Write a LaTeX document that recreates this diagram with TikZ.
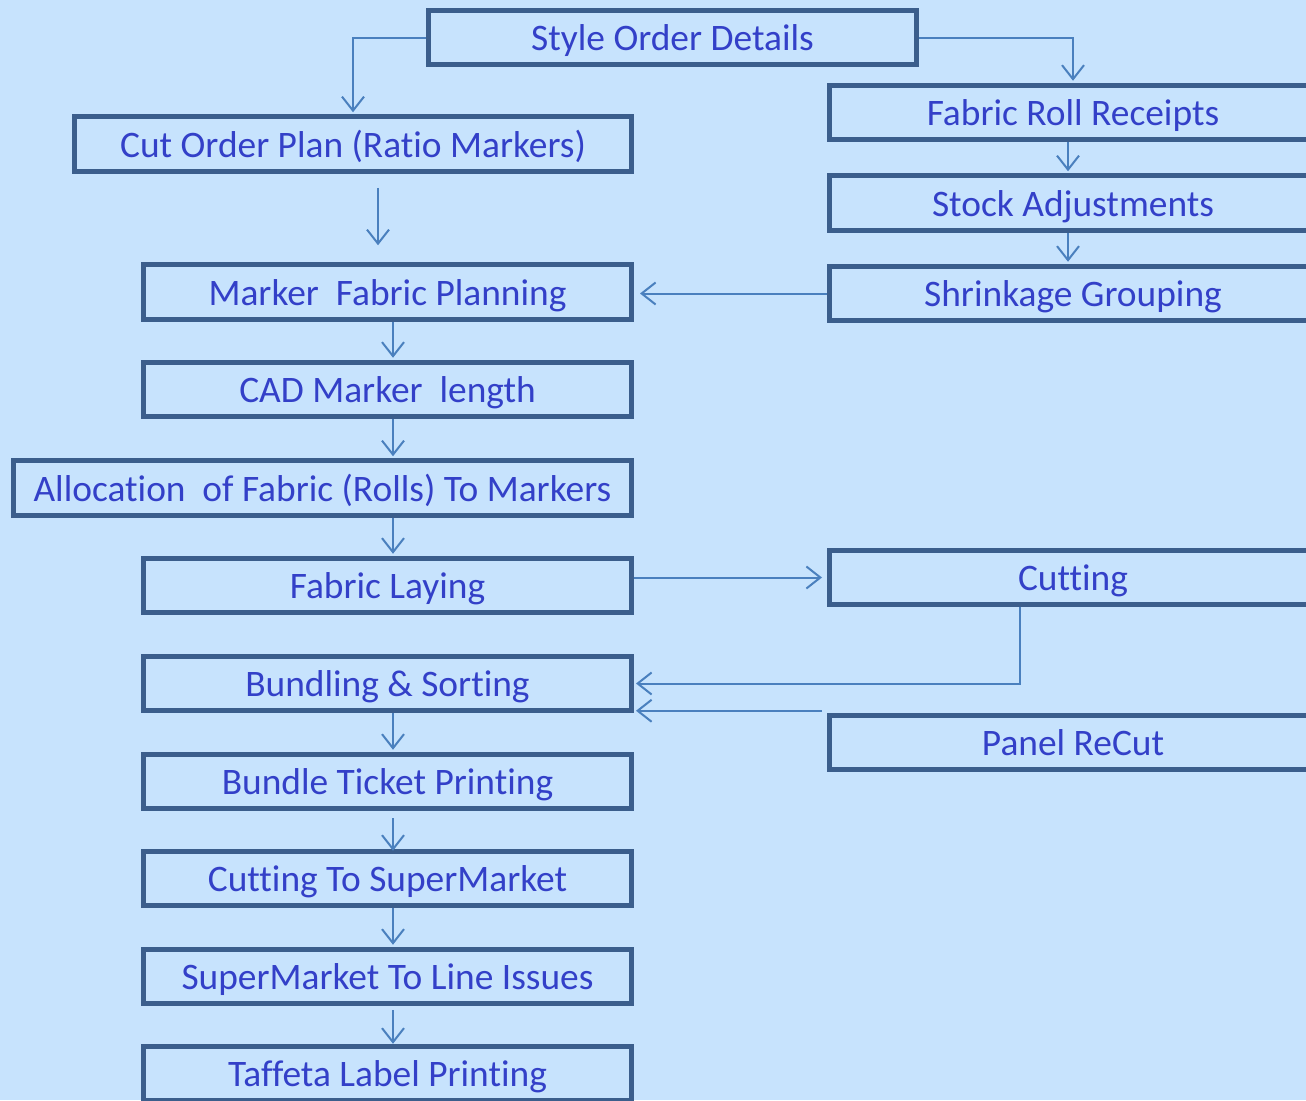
\documentclass[tikz,border=0pt]{standalone}
\usepackage{fontspec}
\setmainfont{Carlito}[Ligatures={NoCommon}]
\usetikzlibrary{arrows.meta,calc}
\definecolor{bgc}{HTML}{C7E3FD}
\definecolor{bordc}{HTML}{3B5E8C}
\definecolor{connc}{HTML}{4A80BE}
\definecolor{txtc}{HTML}{3340C8}
\tikzset{
  box/.style={draw=bordc, line width=5pt, rectangle, inner sep=0pt,
    minimum height=54.5pt, text height=30pt, text depth=4pt,
    text=txtc, font=\fontsize{37.4}{40}\selectfont},
  conn/.style={draw=connc, line width=2pt, -{Straight Barb[length=14pt,width=22pt,line width=2pt]}}
}
\begin{document}
\begin{tikzpicture}[x=1pt,y=-1pt]
\fill[bgc] (0,0) rectangle (1306,1100);
\useasboundingbox (0,0) rectangle (1306,1100);
% right column
\node[box, minimum width=488pt] (sod) at (672.5,37.5) {Style Order Details};
\node[box, minimum width=487pt] (frr) at (1073,112.5) {Fabric Roll Receipts};
\node[box, minimum width=487pt] (sa) at (1073,203) {Stock Adjustments};
\node[box, minimum width=487pt] (sg) at (1073,293.5) {Shrinkage Grouping};
\node[box, minimum width=487pt] (cut) at (1073,577.5) {Cutting};
\node[box, minimum width=487pt] (prc) at (1073,742.5) {Panel ReCut};
% left column
\node[box, minimum width=557pt] (cop) at (353,144) {Cut Order Plan (Ratio Markers)};
\node[box, minimum width=488pt] (mfp) at (387.5,292) {Marker\ \ Fabric Planning};
\node[box, minimum width=488pt] (cad) at (387.5,389.5) {CAD Marker\ \ length};
\node[box, minimum width=618pt] (alloc) at (322.5,488) {Allocation\ \ of Fabric (Rolls) To Markers};
\node[box, minimum width=488pt] (fl) at (387.5,585.5) {Fabric Laying};
\node[box, minimum width=488pt] (bs) at (387.5,683.5) {Bundling \& Sorting};
\node[box, minimum width=488pt] (btp) at (387.5,781.5) {Bundle Ticket Printing};
\node[box, minimum width=488pt] (ctsm) at (387.5,878.5) {Cutting To SuperMarket};
\node[box, minimum width=488pt] (smli) at (387.5,976.5) {SuperMarket To Line Issues};
\node[box, minimum width=488pt] (tlp) at (387.5,1073.5) {Taffeta Label Printing};
% connectors
\draw[conn] (sod.west) -| ([yshift=2pt]cop.north);
\draw[conn] (sod.east) -| ([yshift=2pt]frr.north);
\draw[conn] ([xshift=25pt,yshift=-14pt]cop.south) -- ([xshift=-9.5pt,yshift=17pt]mfp.north);
\draw[conn] ([xshift=-5pt]frr.south) -- ([xshift=-5pt,yshift=2pt]sa.north);
\draw[conn] ([xshift=-5pt]sa.south) -- ([xshift=-5pt,yshift=2pt]sg.north);
\draw[conn] (sg.west) -- ([xshift=6pt]sg.west -| mfp.east);
\draw[conn] ([xshift=5.5pt]mfp.south) -- ([xshift=5.5pt,yshift=2pt]cad.north);
\draw[conn] ([xshift=5.5pt]cad.south) -- ([xshift=5.5pt,yshift=2pt]alloc.north -| cad.south);
\draw[conn] ([xshift=5.5pt]alloc.south -| cad.south) -- ([xshift=5.5pt,yshift=2pt]fl.north);
\draw[conn] (fl.east |- cut.west) -- ([xshift=-5pt]cut.west);
\draw[conn] ([xshift=-53pt]cut.south) |- ([xshift=2pt]bs.east);
\draw[conn] ([xshift=-5pt,yshift=2pt]prc.north west) -- ([xshift=2pt,yshift=2pt]prc.north west -| bs.east);
\draw[conn] ([xshift=5.5pt]bs.south) -- ([xshift=5.5pt,yshift=2pt]btp.north);
\draw[conn] ([xshift=5.5pt,yshift=-7pt]btp.south) -- ([xshift=5.5pt,yshift=-2pt]ctsm.north);
\draw[conn] ([xshift=5.5pt]ctsm.south) -- ([xshift=5.5pt,yshift=2pt]smli.north);
\draw[conn] ([xshift=5.5pt,yshift=-4pt]smli.south) -- ([xshift=5.5pt,yshift=0pt]tlp.north);
\end{tikzpicture}
\end{document}
